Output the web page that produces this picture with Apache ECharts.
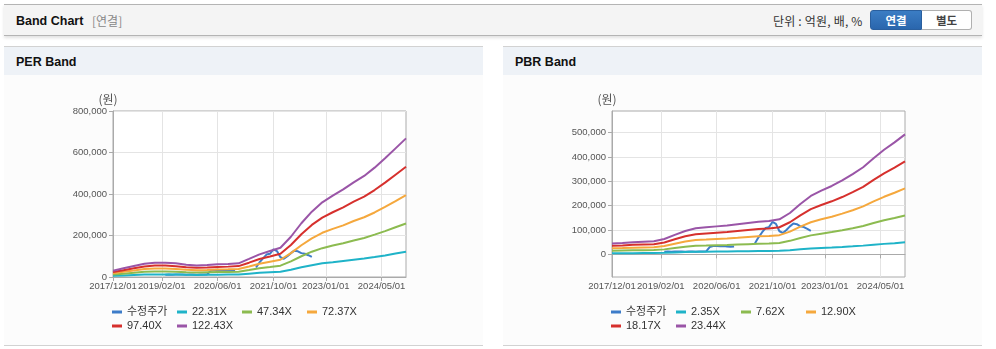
<!DOCTYPE html>
<html>
<head>
<meta charset="utf-8">
<script src="https://cdn.jsdelivr.net/npm/echarts@6/dist/echarts.min.js"></script>
<style>
  html, body { margin: 0; padding: 0; }
  body { width: 996px; height: 349px; background: #fff; position: relative; overflow: hidden;
         font-family: 'Liberation Sans', 'Noto Sans CJK KR', sans-serif; }
  .hd { position: absolute; left: 4px; top: 4px; width: 978px; height: 30px; background: #f4f4f4;
        border-top: 1px solid #b4b4b4; border-bottom: 1px solid #b4b4b4;
        box-shadow: 0 2px 3px rgba(0,0,0,0.12); }
  .hd .ttl { position: absolute; left: 12px; top: 1px; line-height: 31px; font-size: 12.5px; font-weight: bold; color: #111; }
  .hd .sub { position: absolute; left: 88px; top: 0; line-height: 31px; font-size: 12px; color: #888;
             font-family: 'Noto Sans CJK KR', sans-serif; }
  .hd .unit { position: absolute; left: 769px; top: 0; line-height: 31px; font-size: 12px; color: #333;
              font-family: 'Noto Sans CJK KR', sans-serif; letter-spacing: 0.2px; }
  .btn { position: absolute; top: 5px; height: 18px; line-height: 18px; text-align: center; font-size: 11.5px;
         font-weight: bold; font-family: 'Noto Sans CJK KR', sans-serif; box-sizing: content-box; }
  .btn.on { left: 866px; width: 50px; background: linear-gradient(#3b7dc4, #2a66ad); color: #fff;
            border: 1px solid #2a5f9e; border-radius: 3px 0 0 3px; }
  .btn.off { left: 918px; width: 49px; background: #fff; color: #444; border: 1px solid #b0b0b0;
             border-left: none; border-radius: 0 3px 3px 0; }
  .pn { position: absolute; top: 46px; width: 479px; height: 298px; background: #fcfcfc;
        border-top: 1px solid #d2d2d2; border-bottom: 1px solid #d2d2d2; }
  .pn .bar { height: 28px; line-height: 30px; background: #eef2f7; padding-left: 12px;
             font-size: 12.5px; font-weight: bold; color: #111; }
  #chart { position: absolute; left: 0; top: 0; width: 996px; height: 349px; }
</style>
</head>
<body>
<div class="hd">
  <span class="ttl">Band Chart</span>
  <span class="sub">[연결]</span>
  <span class="unit">단위 : 억원, 배, %</span>
  <span class="btn on">연결</span>
  <span class="btn off">별도</span>
</div>
<div class="pn" style="left:4px"><div class="bar">PER Band</div></div>
<div class="pn" style="left:503px"><div class="bar">PBR Band</div></div>
<div id="chart"></div>
<script>
// Month axis runs from 2017/12 to 2024/12
const startYear = 2017, startMonth = 12, monthCount = 85;
const months = [];
for (let i = 0; i < monthCount; i++) {
  const m = startMonth - 1 + i;
  const y = startYear + Math.floor(m / 12);
  const mm = (m % 12) + 1;
  months.push(y + '/' + (mm < 10 ? '0' + mm : mm) + '/01');
}

// Dates shown under the x axis
const tickLabels = ['2017/12/01', '2019/02/01', '2020/06/01', '2021/10/01', '2023/01/01', '2024/05/01'];

// Quarterly dates of the band lines
const bandDates = ['2017/12/01','2018/03/01','2018/06/01','2018/09/01','2018/12/01','2019/03/01','2019/06/01',
  '2019/09/01','2019/12/01','2020/03/01','2020/06/01','2020/09/01','2020/12/01','2021/03/01','2021/06/01',
  '2021/09/01','2021/12/01','2022/03/01','2022/06/01','2022/09/01','2022/12/01','2023/03/01','2023/06/01',
  '2023/09/01','2023/12/01','2024/03/01','2024/06/01','2024/09/01','2024/12/01'];

// PER band lines (원)
const perNames = ['22.31X', '47.34X', '72.37X', '97.40X', '122.43X'];
const per22 = [5500,7500,9500,11500,12500,12500,12000,11000,10000,10500,11000,11500,12000,16000,20000,23000,25500,35000,47000,57000,66000,71000,77000,83000,89000,96000,104000,113000,122000];
const per47 = [12000,16000,20000,25000,27000,27000,25500,23000,21500,22500,23500,24500,25500,33500,42000,48000,54500,75000,100000,122000,139000,152000,163000,176000,188000,204000,221000,240000,258000];
const per72 = [18000,25000,31000,38000,41000,41000,39000,35000,33000,34000,36000,37000,39000,51000,64000,74000,83000,115000,153000,186000,213000,232000,249000,270000,288000,311000,338000,366000,395000];
const per97 = [24000,33000,42000,51000,55000,55000,52000,47000,44500,46000,48500,50000,52500,69000,87000,99000,112000,154000,206000,251000,286000,312000,336000,363000,387000,419000,455000,493000,531000];
const per122 = [30500,42000,53000,64000,69000,69000,66000,59000,56000,58000,61000,63000,66000,87000,109000,125000,141000,194000,259000,315000,360000,392000,422000,456000,487000,527000,572000,620000,668000];

// PBR band lines (원)
const pbrNames = ['2.35X', '7.62X', '12.90X', '18.17X', '23.44X'];
const pbr2 = [4500,4700,5000,5200,5400,6300,8000,9600,10700,11100,11500,11900,12400,12900,13400,13700,14400,17000,20800,24000,26300,28200,30500,33000,35900,39600,43100,46100,49400];
const pbr7 = [14500,15500,16500,17000,17500,20500,26000,31000,35000,36000,37500,38500,40500,42000,43500,44500,47000,55500,67500,78000,85000,91500,99000,107500,116500,128500,140000,149500,160000];
const pbr12 = [25000,26000,27500,28500,29500,34500,44000,53000,59000,61000,63500,65500,68000,71000,74000,75500,79000,93500,114000,132000,144000,154500,167500,181500,197000,217500,236500,253000,271000];
const pbr18 = [35000,36500,39000,40500,42000,49000,62000,74500,83000,86000,89000,92000,96000,100000,104000,106000,111500,132000,160500,186000,203000,218000,235500,256000,277500,306000,333000,356500,382000];
const pbr23 = [45000,47000,50000,52000,54000,63000,80000,96000,107000,111000,115000,119000,124000,129000,134000,137000,144000,170000,207000,240000,262000,281000,304000,330000,358000,395000,430000,460000,493000];

// Adjusted share price (수정주가), monthly from 2019/03
const priceName = '수정주가';
const priceStart = '2019/03/01';
const priceValues = [11000,11500,11000,11500,12000,11500,11000,11500,12000,11000,11500,12000,12500,
  30000,34000,34500,33000,34000,32500,31000,32000,
  null,null,null,null,null,
  46000,70000,90000,108000,112000,133000,125000,95000,88000,100000,115000,127000,124000,115000,112000,105000,97000];

const colors = ['#3d7cc9', '#1fb3c8', '#8cbb50', '#f5a83d', '#d6302d', '#9a55a7'];

const FONT = "'Liberation Sans', 'Noto Sans CJK KR', sans-serif";

function pairs(dates, vals) { return dates.map((d, i) => [d, vals[i]]); }
function priceData() {
  const s = months.indexOf(priceStart);
  return priceValues.map((v, i) => [months[s + i], v]);
}
const showTick = (idx, val) => tickLabels.indexOf(val) >= 0;
const fmt = v => String(v).replace(/\B(?=(\d{3})+(?!\d))/g, ',');

function xAxisFor(gi) {
  return {
    type: 'category', gridIndex: gi, data: months, boundaryGap: false,
    axisLine: { lineStyle: { color: '#aaa' } },
    axisTick: { interval: showTick, length: 4, lineStyle: { color: '#aaa' } },
    axisLabel: { interval: showTick, margin: 5, color: '#555', fontSize: 9.5, fontFamily: FONT },
    splitLine: { show: true, interval: showTick, lineStyle: { color: '#e4e4e4' } }
  };
}
function lineSeries(name, data, color, gi) {
  return { name, type: 'line', xAxisIndex: gi, yAxisIndex: gi, data, showSymbol: false, symbol: 'none',
           connectNulls: false, lineStyle: { width: 2, color }, itemStyle: { color }, animation: false };
}

const perVals = [per22, per47, per72, per97, per122];
const pbrVals = [pbr2, pbr7, pbr12, pbr18, pbr23];
const series = [lineSeries(priceName, priceData(), colors[0], 0)];
perNames.forEach((n, i) => series.push(lineSeries(n, pairs(bandDates, perVals[i]), colors[i + 1], 0)));
series.push(lineSeries(priceName, priceData(), colors[0], 1));
pbrNames.forEach((n, i) => series.push(lineSeries(n, pairs(bandDates, pbrVals[i]), colors[i + 1], 1)));

const pbrTicks = [0, 100000, 200000, 300000, 400000, 500000];

const unitName = {
  name: '(원)', nameLocation: 'end', nameGap: 6,
  nameTextStyle: { color: '#555', fontSize: 12, fontFamily: "'Noto Sans CJK KR', sans-serif", align: 'center', padding: [0, 10, 0, 0] }
};

function legendFor(left, names) {
  return {
    left, top: 305, width: 262, padding: 0, itemGap: 0, itemWidth: 10, itemHeight: 3, icon: 'rect',
    selectedMode: false,
    textStyle: { fontSize: 11, color: '#333', width: 50, lineHeight: 14, fontFamily: FONT },
    data: names
  };
}

const chart = echarts.init(document.getElementById('chart'), null, { renderer: 'canvas' });
chart.setOption({
  animation: false,
  grid: [
    { left: 113, top: 111, width: 293, height: 166, show: true, borderColor: '#aaa', borderWidth: 1, backgroundColor: '#fff' },
    { left: 612, top: 111, width: 293, height: 166, show: true, borderColor: '#aaa', borderWidth: 1, backgroundColor: '#fff' }
  ],
  xAxis: [xAxisFor(0), xAxisFor(1)],
  yAxis: [
    Object.assign({ type: 'value', gridIndex: 0, min: 0, max: 800000, interval: 200000,
      axisLine: { show: true, lineStyle: { color: '#aaa' } },
      axisTick: { show: true, length: 4, lineStyle: { color: '#aaa' } },
      axisLabel: { margin: 6, color: '#555', fontSize: 9.5, fontFamily: FONT, formatter: fmt },
      splitLine: { lineStyle: { color: '#e4e4e4' } } }, unitName),
    Object.assign({ type: 'value', gridIndex: 1, min: -93000, max: 589000,
      axisLine: { show: true, lineStyle: { color: '#aaa' } },
      axisTick: { show: true, length: 4, customValues: pbrTicks, lineStyle: { color: '#aaa' } },
      axisLabel: { margin: 6, color: '#555', fontSize: 9.5, fontFamily: FONT, formatter: fmt, customValues: pbrTicks },
      splitLine: { lineStyle: { color: '#e4e4e4' } } }, unitName)
  ],
  legend: [
    legendFor(112, [priceName].concat(perNames)),
    legendFor(611, [priceName].concat(pbrNames))
  ],
  series
});
</script>
</body>
</html>
